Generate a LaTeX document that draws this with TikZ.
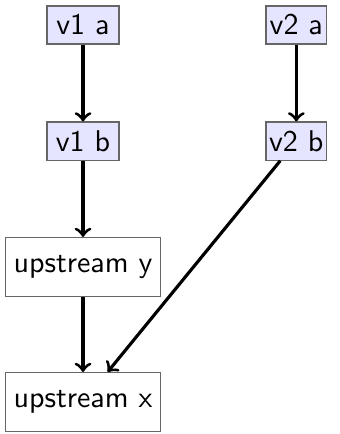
\documentclass[tikz,border=0pt]{standalone}
\usepackage{tikz}
\usetikzlibrary{positioning}

\begin{document}
\begin{tikzpicture}[node distance=38.7pt,font=\sffamily,
vbox/.style={
rectangle,
draw=black!60,
fill=blue!10,
inner sep=1pt,
minimum width=20.2pt,
minimum height=12.7pt
},
ubox/.style={
rectangle,
draw=black!60,
inner sep=1pt,
minimum width=51.7pt,
minimum height=19.7pt
},
to/.style={->,line width=1.05pt},
]

\node (v1a) [vbox, minimum width=24pt] {v1 a};
\node (v1b) [vbox, minimum width=24pt, below of=v1a] {v1 b};
\node (uy) [ubox, below of=v1b, node distance=42pt] {upstream y};
\node (ux) [ubox, below of=uy, node distance=45pt] {upstream x};
\node (v2a) [vbox, right of=v1a, node distance=71.1pt] {v2 a};
\node (v2b) [vbox, below of=v2a] {v2 b};
\useasboundingbox ([shift={(-27.67pt,8.33pt)}]v1a.center) rectangle ([shift={(85.33pt,-136.33pt)}]v1a.center);
\draw[to] (v1a) -- (v1b);
\draw[to] (v2a) -- (v2b);
\draw[to] (v1b) -- (uy);
\draw[to] (uy) -- (ux);
\draw[to] (v2b) -- (ux);
\end{tikzpicture}
\end{document}
